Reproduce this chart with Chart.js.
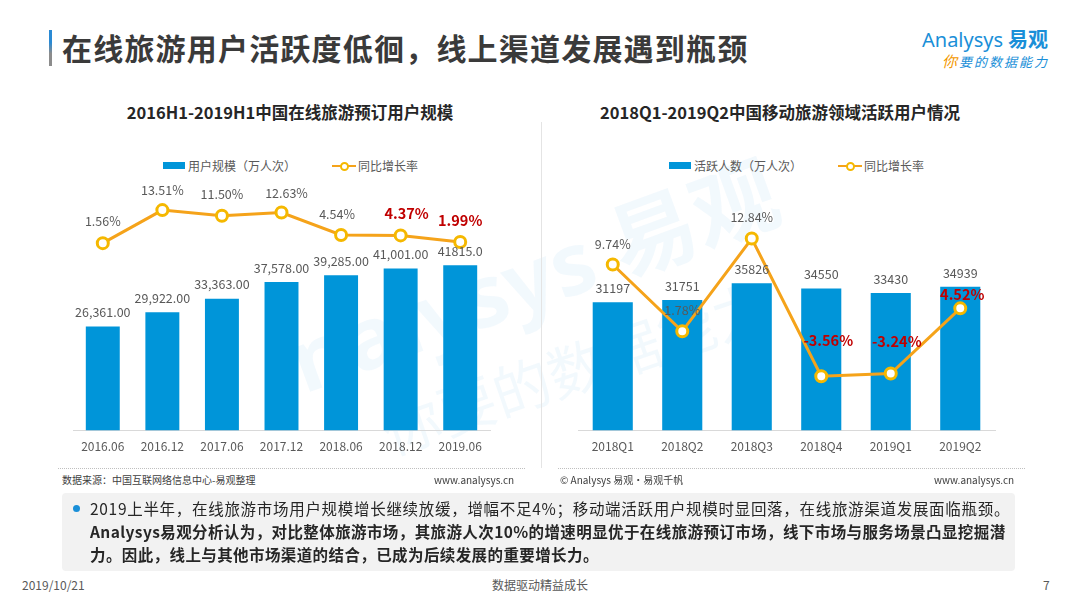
<!DOCTYPE html>
<html>
<head>
<meta charset="utf-8">
<script src="https://cdn.jsdelivr.net/npm/chart.js@4"></script>
<style>
  html,body{margin:0;padding:0;background:#fff;}
  body{width:1080px;height:608px;position:relative;overflow:hidden;font-family:"Noto Sans CJK SC","Noto Sans",sans-serif;color:#404040;}
  .abs{position:absolute;white-space:nowrap;}
  #mainTitle{left:62px;top:26px;font-size:30px;font-weight:bold;color:#3a3a3a;line-height:42px;letter-spacing:1.2px;}
  #titleBar{left:49px;top:30px;width:3px;height:36px;background:linear-gradient(#2a8ad4 0%,#2a8ad4 35%,#8c8c8c 65%,#8c8c8c 100%);}
  #logo1{left:922px;top:24px;font-size:20px;color:#1a8fd8;font-family:"Noto Sans","DejaVu Sans",sans-serif;}
  #logo1 b{font-family:"Noto Sans CJK SC";font-weight:bold;margin-left:5px;}
  #logo2{left:942px;top:50px;font-size:13px;color:#1a8fd8;font-style:italic;letter-spacing:2px;}
  #logo2 span{color:#f39800;font-size:15px;}
  .ctitle{top:100px;font-size:16.5px;font-weight:bold;color:#262626;text-align:center;width:480px;}
  .legend{top:157px;font-size:12px;color:#595959;display:flex;align-items:center;}
  .lbox{display:inline-block;width:22px;height:7px;background:#0095d9;margin-right:3px;}
  .lline{display:inline-block;position:relative;width:24px;height:10px;margin-right:2px;}
  .lline:before{content:"";position:absolute;left:0;right:0;top:4px;height:2px;background:#f5a31a;}
  .lline:after{content:"";position:absolute;left:8px;top:1px;width:5px;height:5px;border:2px solid #f5b800;border-radius:50%;background:#fff;}
  .gap{display:inline-block;}
  canvas{position:absolute;}
  .src{top:472px;font-size:10px;color:#404040;}
  .dots{top:468px;height:0;border-top:1px dotted #bfbfbf;}
  #vdiv{left:541px;top:122px;width:1px;height:346px;background:#e4e4e4;}
  #box{left:62px;top:493px;width:953px;height:78px;background:#f2f2f2;border-radius:4px;}
  #bullet{left:73px;top:505px;width:7px;height:7px;border-radius:50%;background:#1a8fd8;}
  .bt{left:90px;font-size:15.5px;color:#262626;line-height:23px;}
  .foot{top:576px;font-size:12px;color:#595959;}
  #wm1{left:270px;top:300px;font-size:86px;font-weight:bold;color:rgba(0,140,215,0.05);transform:rotate(-20deg);transform-origin:left top;font-family:"Noto Sans","Noto Sans CJK SC";}
  #wm2{left:370px;top:392px;font-size:58px;color:rgba(0,140,215,0.05);transform:rotate(-19deg);transform-origin:left top;}
</style>
</head>
<body>
<div id="wm1" class="abs">nalysys 易观</div>
<div id="wm2" class="abs">你要的数据能力</div>

<div id="titleBar" class="abs"></div>
<div id="mainTitle" class="abs">在线旅游用户活跃度低徊，线上渠道发展遇到瓶颈</div>
<div id="logo1" class="abs">Analysys<b>易观</b></div>
<div id="logo2" class="abs"><span>你</span>要的数据能力</div>

<div class="abs ctitle" style="left:50px;">2016H1-2019H1中国在线旅游预订用户规模</div>
<div class="abs ctitle" style="left:540px;">2018Q1-2019Q2中国移动旅游领域活跃用户情况</div>

<div class="abs legend" style="left:163px;"><span class="lbox"></span>用户规模（万人次）<span class="gap" style="width:36px"></span><span class="lline"></span>同比增长率</div>
<div class="abs legend" style="left:669px;"><span class="lbox"></span>活跃人数（万人次）<span class="gap" style="width:36px"></span><span class="lline"></span>同比增长率</div>

<div id="vdiv" class="abs"></div>

<canvas id="c1" style="left:50px;top:150px;width:465px;height:320px;" width="465" height="320"></canvas>
<canvas id="c2" style="left:555px;top:150px;width:465px;height:320px;" width="465" height="320"></canvas>

<div class="abs dots" style="left:58px;width:467px;"></div>
<div class="abs dots" style="left:558px;width:467px;"></div>
<div class="abs src" style="left:62px;">数据来源：中国互联网络信息中心-易观整理</div>
<div class="abs src" style="left:434px;">www.analysys.cn</div>
<div class="abs src" style="left:560px;">© Analysys 易观·易观千帆</div>
<div class="abs src" style="left:934px;">www.analysys.cn</div>

<div id="box" class="abs"></div>
<div id="bullet" class="abs"></div>
<div class="abs bt" style="top:497px;letter-spacing:0.7px;">2019上半年，在线旅游市场用户规模增长继续放缓，增幅不足4%；移动端活跃用户规模时显回落，在线旅游渠道发展面临瓶颈。</div>
<div class="abs bt" style="top:520px;font-weight:bold;letter-spacing:0.4px;">Analysys易观分析认为，对比整体旅游市场，其旅游人次10%的增速明显优于在线旅游预订市场，线下市场与服务场景凸显挖掘潜</div>
<div class="abs bt" style="top:543px;font-weight:bold;letter-spacing:0.4px;">力。因此，线上与其他市场渠道的结合，已成为后续发展的重要增长力。</div>

<div class="abs foot" style="left:22px;">2019/10/21</div>
<div class="abs foot" style="left:492px;">数据驱动精益成长</div>
<div class="abs foot" style="left:1043px;">7</div>

<script>
// ---------- data ----------
const leftCategories = ['2016.06','2016.12','2017.06','2017.12','2018.06','2018.12','2019.06'];
const leftUsers = [26361, 29922, 33363, 37578, 39285, 41001, 41815];
const leftUserLabels = ['26,361.00','29,922.00','33,363.00','37,578.00','39,285.00','41,001.00','41815.0'];
const leftGrowth = [1.56, 13.51, 11.50, 12.63, 4.54, 4.37, 1.99];
const leftHighlight = [5, 6];

const rightCategories = ['2018Q1','2018Q2','2018Q3','2018Q4','2019Q1','2019Q2'];
const rightActive = [31197, 31751, 35826, 34550, 33430, 34939];
const rightGrowth = [9.74, 1.78, 12.84, -3.56, -3.24, 4.52];
const rightHighlight = [3, 4, 5];

// ---------- style ----------
const BLUE = '#0095d9';
const ORANGE = '#f5a31a';
const MARK = '#f5b800';
const GRAY = '#595959';
const RED = '#c00000';
const FONT = '"Noto Sans CJK SC","Noto Sans",sans-serif';

function makeLabelPlugin(cfg) {
  return {
    id: 'valueLabels',
    afterDatasetsDraw(chart) {
      const ctx = chart.ctx;
      ctx.save();
      ctx.textAlign = 'center';
      ctx.textBaseline = 'middle';
      chart.data.datasets.forEach((ds, di) => {
        const meta = chart.getDatasetMeta(di);
        const c = cfg[di];
        meta.data.forEach((el, i) => {
          const hi = c.highlight ? c.highlight.includes(i) : false;
          const txt = c.text(i);
          const off = (c.offsets && c.offsets[i] !== undefined) ? c.offsets[i] : c.offset;
          const dx = (c.dx && c.dx[i]) || 0;
          ctx.font = (hi ? 'bold 14.5px ' : '12.5px ') + FONT;
          ctx.fillStyle = hi ? RED : GRAY;
          ctx.fillText(txt, el.x + dx, el.y - off);
        });
      });
      ctx.restore();
    }
  };
}

function makeChart(id, cats, bars, barText, growth, hl, yMax, y1Min, y1Max, barPct, growthOffsets, growthDx) {
  const labelCfg = [
    { text: i => growth[i].toFixed(2) + '%', offset: 21, offsets: growthOffsets, dx: growthDx, highlight: hl },
    { text: i => barText(i), offset: 14 }
  ];
  return new Chart(document.getElementById(id), {
    data: {
      labels: cats,
      datasets: [
        {
          type: 'line', data: growth, yAxisID: 'y1', order: 0,
          borderColor: ORANGE, borderWidth: 3, tension: 0,
          pointRadius: 5.5, pointBorderWidth: 3, pointBackgroundColor: '#fff', pointBorderColor: MARK
        },
        {
          type: 'bar', data: bars, yAxisID: 'y', order: 1,
          backgroundColor: BLUE, barPercentage: barPct, categoryPercentage: 1
        }
      ]
    },
    options: {
      responsive: false, animation: false,
      layout: { padding: { left: 23, right: 25, top: 10, bottom: 7 } },
      plugins: { legend: { display: false }, tooltip: { enabled: false } },
      scales: {
        x: {
          grid: { display: false, drawTicks: false },
          border: { display: true, color: '#d9d9d9', width: 1 },
          ticks: { color: GRAY, font: { size: 12, family: FONT }, padding: 9 }
        },
        y: { display: false, min: 0, max: yMax },
        y1: { display: false, min: y1Min, max: y1Max }
      }
    },
    plugins: [makeLabelPlugin(labelCfg)]
  });
}

makeChart('c1', leftCategories, leftUsers, i => leftUserLabels[i], leftGrowth, leftHighlight,
  68445, -66.2, 31.63, 0.57, [22, 20, 21, 19, 21, 22, 22], [0, 0, 0, 5, -4, 6, 0]);
makeChart('c2', rightCategories, rightActive, i => String(rightActive[i]), rightGrowth, rightHighlight,
  65745, -10.04, 22.19, 0.577, [20, 21, 21, 36, 32, 14], [0, 0, 0, 7, 6, 2]);
</script>
</body>
</html>
